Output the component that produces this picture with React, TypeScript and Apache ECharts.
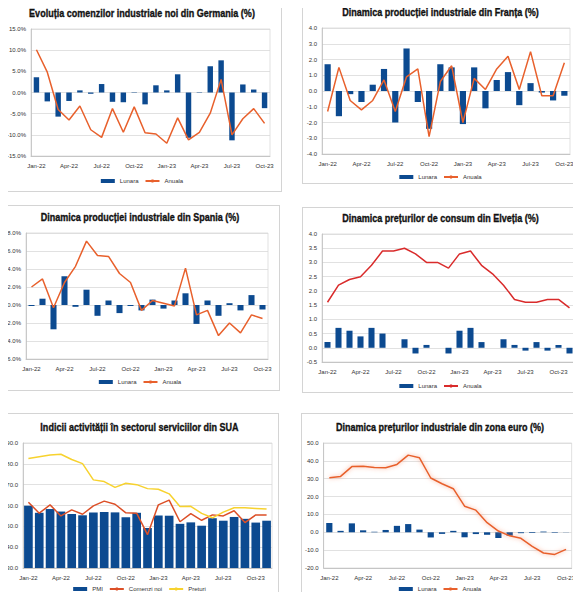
import React, { FC, useEffect, useRef } from "react";
import * as echarts from "echarts";

// luni (Jan-22 .. Nov-23)
const monthsOct23 = [
  "Jan-22", "Feb-22", "Mar-22", "Apr-22", "May-22", "Jun-22", "Jul-22", "Aug-22", "Sep-22", "Oct-22", "Nov-22", "Dec-22",
  "Jan-23", "Feb-23", "Mar-23", "Apr-23", "May-23", "Jun-23", "Jul-23", "Aug-23", "Sep-23", "Oct-23",
];
const monthsNov23 = [...monthsOct23, "Nov-23"];

// Germania - comenzi industriale noi (%)
const deLunara = [3.6, -2.1, -5.7, -2.0, 0.5, -0.3, 2.0, -2.2, -2.3, 0.1, -2.8, 1.7, 0.5, 4.3, -10.7, 0.1, 6.2, 7.6, -11.3, 1.9, 0.7, -3.7];
const deAnuala = [10.1, 4.8, -4.0, -6.5, -3.2, -8.8, -10.6, -3.8, -9.4, -3.4, -9.5, -9.8, -12.0, -6.0, -11.2, -9.4, -4.9, 3.1, -10.0, -6.2, -3.8, -7.3];

// Franta - productie industriala (%)
const frLunara = [1.7, -1.6, -0.2, -0.7, 0.4, 1.4, -2.0, 2.7, -0.7, -2.4, 1.7, 1.5, -2.1, 1.5, -1.1, 0.7, 1.2, -0.9, 0.5, -0.1, -0.6, -0.3];
const frAnuala = [-1.3, 1.5, -0.6, -1.2, -0.6, 0.7, -1.3, 0.9, 1.4, -2.9, 0.6, 1.6, -2.0, 0.8, 0.1, 1.4, 2.2, 0.1, 2.5, -0.3, -0.3, 1.8];

// Spania - productie industriala (%)
const esLunara = [-0.1, 0.7, -2.7, 3.2, -0.2, 1.7, -1.2, 0.5, -0.9, -0.1, -0.6, 0.6, -0.4, 0.5, 1.3, -2.1, 0.5, -1.2, 0.2, -0.6, 1.1, -0.5];
const esAnuala = [2.0, 2.9, -0.3, 2.5, 4.3, 7.1, 5.5, 5.4, 3.5, 2.5, -0.6, 0.5, 0.2, -0.1, 4.1, -1.1, -0.6, -3.4, -2.0, -3.1, -1.1, -1.5];

// Elvetia - preturi de consum (%)
const chLunara = [0.2, 0.7, 0.6, 0.4, 0.7, 0.5, 0.0, 0.3, -0.2, 0.1, 0.0, -0.2, 0.6, 0.7, 0.2, 0.0, 0.3, 0.1, -0.1, 0.2, -0.1, 0.1, -0.2];
const chAnuala = [1.6, 2.2, 2.4, 2.5, 2.9, 3.4, 3.4, 3.5, 3.3, 3.0, 3.0, 2.8, 3.3, 3.4, 2.9, 2.6, 2.2, 1.7, 1.6, 1.6, 1.7, 1.7, 1.4];

// SUA - sectorul serviciilor
const usPmi = [59.9, 56.5, 58.3, 57.1, 55.9, 55.3, 56.7, 56.9, 56.7, 54.4, 56.5, 49.2, 55.2, 55.1, 51.2, 51.9, 50.3, 53.9, 52.7, 54.5, 53.6, 51.8, 52.7];
const usComenzi = [61.6, 56.3, 60.3, 55.0, 57.9, 55.8, 59.8, 62.1, 60.6, 56.5, 56.3, 46.0, 60.3, 62.6, 52.2, 56.1, 52.9, 55.5, 55.0, 57.5, 51.8, 55.5, 55.5];
const usPreturi = [82.6, 83.4, 84.2, 84.6, 82.1, 80.1, 72.3, 71.5, 68.7, 70.7, 70.0, 68.1, 67.8, 65.6, 59.5, 59.6, 56.2, 54.1, 56.8, 58.9, 58.9, 58.6, 58.3];

// zona euro - preturi industriale (%)
const euLunara = [5.2, 0.8, 5.0, 1.1, 0.3, 1.3, 3.6, 4.6, 1.5, -2.9, -0.9, 0.8, -2.8, -1.0, -1.4, -3.2, -1.9, -0.5, -0.4, 0.4, -0.3, 0.1];
const euAnuala = [30.6, 31.3, 36.8, 37.0, 36.3, 36.1, 38.0, 43.2, 41.7, 30.4, 27.2, 24.4, 14.6, 12.4, 5.4, 0.7, -2.0, -3.4, -7.9, -11.6, -12.4, -9.6];

const BLUE = "#0c4a90";
const ORANGE = "#e8602c";
const RED = "#d92b2b";
const YELLOW = "#f7d22e";
const FONT = "Liberation Sans";

type Box = { left: number; top: number; width: number; height: number };

const barSeries = (name: string, data: number[], width: string) => ({
  name,
  type: "bar",
  data,
  barWidth: width,
  itemStyle: { color: BLUE },
});

const lineSeries = (name: string, data: number[], color: string, extra: any = {}) => ({
  name,
  type: "line",
  data,
  symbol: "none",
  lineStyle: { color, width: 1.5, ...extra },
  itemStyle: { color },
  z: 3,
});

const makeOption = (
  title: string,
  titleY: number,
  chartWidth: number,
  cats: string[],
  grid: Box,
  yMin: number,
  yMax: number,
  yStep: number,
  fmt: (v: number) => string,
  series: any[],
  legendTop: number
) => ({
  animation: false,
  // titlu condensat (text real, scalat pe orizontala)
  graphic: [
    {
      type: "text",
      x: chartWidth / 2,
      y: titleY,
      scaleX: 0.82,
      style: {
        text: title,
        font: `bold 11px "${FONT}"`,
        fill: "#111",
        stroke: "#111",
        lineWidth: 0.35,
        align: "center",
        verticalAlign: "middle",
      },
    },
  ],
  grid: { ...grid, show: true, borderColor: "#d9d9d9", borderWidth: 0.8 },
  legend: {
    top: legendTop,
    left: "center",
    padding: 0,
    itemWidth: 14,
    itemHeight: 4,
    itemGap: 6,
    textStyle: { fontSize: 6, color: "#333", fontFamily: FONT },
    data: series.map((s) => (s.type === "bar" ? { name: s.name, icon: "rect" } : { name: s.name })),
  },
  xAxis: {
    type: "category",
    data: cats,
    axisTick: { show: false },
    axisLine: { onZero: false, lineStyle: { color: "#bfbfbf", width: 0.8 } },
    axisLabel: { interval: 2, fontSize: 6, color: "#333", margin: 7, fontFamily: FONT },
  },
  yAxis: {
    type: "value",
    min: yMin,
    max: yMax,
    interval: yStep,
    axisLine: { show: true, lineStyle: { color: "#bfbfbf", width: 0.8 } },
    axisTick: { show: false },
    splitLine: { lineStyle: { color: "#d9d9d9", width: 0.8 } },
    axisLabel: { fontSize: 6, color: "#333", margin: 5, formatter: fmt, fontFamily: FONT },
  },
  series,
});

const pct = (v: number) => v.toFixed(1) + "%";
const one = (v: number) => v.toFixed(1);

const panels: { box: Box; option: any }[] = [
  {
    box: { left: 2, top: 0, width: 280, height: 192 },
    option: makeOption(
      "Evoluția comenzilor industriale noi din Germania (%)", 12, 278,
      monthsOct23,
      { left: 28, top: 28, width: 239, height: 127 },
      -15, 15, 5, pct,
      [barSeries("Lunara", deLunara, "50%"), lineSeries("Anuala", deAnuala, ORANGE)],
      177
    ),
  },
  {
    box: { left: 302, top: 0, width: 277, height: 184 },
    option: makeOption(
      "Dinamica producției industriale din Franța (%)", 11, 275,
      monthsOct23,
      { left: 19, top: 27, width: 248, height: 126 },
      -4, 4, 1, one,
      [barSeries("Lunara", frLunara, "55%"), lineSeries("Anuala", frAnuala, ORANGE)],
      173
    ),
  },
  {
    box: { left: 0, top: 205, width: 280, height: 186 },
    option: makeOption(
      "Dinamica producției industriale din Spania (%)", 11, 278,
      monthsOct23,
      { left: 25, top: 27, width: 242, height: 126 },
      -6, 8, 2, pct,
      [barSeries("Lunara", esLunara, "55%"), lineSeries("Anuala", esAnuala, ORANGE)],
      173
    ),
  },
  {
    box: { left: 302, top: 207, width: 277, height: 186 },
    option: makeOption(
      "Dinamica prețurilor de consum din Elveția (%)", 10, 275,
      monthsNov23,
      { left: 19, top: 26, width: 253, height: 128 },
      -0.5, 4, 0.5, one,
      [barSeries("Lunara", chLunara, "55%"), lineSeries("Anuala", chAnuala, RED)],
      175
    ),
  },
  {
    box: { left: 0, top: 413, width: 279, height: 200 },
    option: makeOption(
      "Indicii activității în sectorul serviciilor din SUA", 13, 277,
      monthsNov23,
      { left: 22, top: 29, width: 249, height: 125 },
      30, 90, 10, one,
      [
        barSeries("PMI", usPmi, "80%"),
        lineSeries("Comenzi noi", usComenzi, "#dc4f27"),
        lineSeries("Preturi", usPreturi, YELLOW),
      ],
      172
    ),
  },
  {
    box: { left: 301, top: 413, width: 278, height: 200 },
    option: makeOption(
      "Dinamica prețurilor industriale din zona euro (%)", 13, 276,
      monthsOct23,
      { left: 21, top: 29, width: 249, height: 125 },
      -20, 50, 10, one,
      [
        barSeries("Lunara", euLunara, "55%"),
        lineSeries("Anuala", euAnuala, ORANGE, { shadowColor: "rgba(245,130,90,0.7)", shadowBlur: 4 }),
      ],
      172
    ),
  },
];

const Panel: FC<{ box: Box; option: any }> = ({ box, option }) => {
  const chartRef = useRef<HTMLDivElement | null>(null);
  useEffect(() => {
    const chart = echarts.init(chartRef.current as HTMLDivElement, undefined, { renderer: "svg" });
    chart.setOption(option);
    return () => {
      chart.dispose();
    };
  }, []);
  return (
    <div
      style={{
        position: "absolute",
        left: box.left,
        top: box.top,
        width: box.width,
        height: box.height,
        border: "1px solid #d4d4d4",
        boxSizing: "border-box",
        background: "#fff",
      }}
    >
      <div ref={chartRef} style={{ width: box.width - 2, height: box.height - 2 }}></div>
    </div>
  );
};

const App: FC = () => (
  <div style={{ position: "relative", margin: -8, width: 581, height: 600, overflow: "hidden", background: "#fff" }}>
    {panels.map((p, i) => (
      <Panel key={i} box={p.box} option={p.option} />
    ))}
  </div>
);

export default App;
